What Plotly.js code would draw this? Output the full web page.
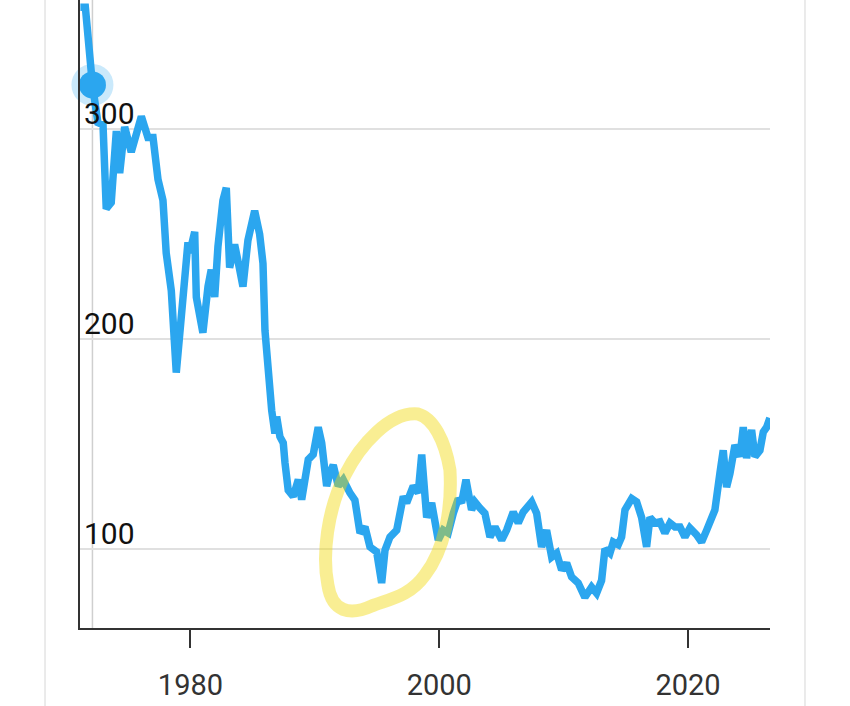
<!DOCTYPE html>
<html>
<head>
<meta charset="utf-8">
<script src="https://cdn.plot.ly/plotly-3.0.1.min.js"></script>
<style>
  html, body { margin: 0; padding: 0; background: #ffffff; }
  #chart { width: 850px; height: 706px; }
</style>
</head>
<body>
<div id="chart"></div>
<script>
// ---- data ----
const years = [
  1971.15, 1971.55, 1972.12, 1972.30, 1972.56, 1972.97, 1973.23, 1973.63, 1974.04, 1974.31,
  1974.71, 1975.24, 1976.05, 1976.58, 1976.99, 1977.39, 1977.79, 1978.05, 1978.46, 1978.86,
  1979.13, 1979.40, 1979.80, 1979.94, 1980.34, 1980.47, 1981.00, 1981.41, 1981.67, 1981.95,
  1982.21, 1982.61, 1982.88, 1983.15, 1983.55, 1983.96, 1984.22, 1984.62, 1985.16, 1985.56,
  1985.83, 1985.99, 1986.25, 1986.53, 1986.79, 1986.93, 1987.19, 1987.46, 1987.60, 1987.86,
  1988.26, 1988.67, 1988.94, 1989.47, 1989.87, 1990.27, 1990.55, 1990.95, 1991.21, 1991.48,
  1991.88, 1992.28, 1992.82, 1993.22, 1993.63, 1994.03, 1994.43, 1994.97, 1995.37, 1995.64,
  1996.04, 1996.58, 1997.11, 1997.38, 1997.91, 1998.31, 1998.59, 1998.99, 1999.39, 1999.92,
  2000.32, 2000.72, 2001.13, 2001.53, 2001.80, 2002.15, 2002.60, 2002.87, 2003.27, 2003.67,
  2004.08, 2004.48, 2005.02, 2005.42, 2005.95, 2006.35, 2006.75, 2007.15, 2007.43, 2007.83,
  2008.23, 2008.63, 2009.04, 2009.44, 2009.84, 2010.24, 2010.64, 2011.17, 2011.71, 2012.25,
  2012.65, 2013.05, 2013.32, 2013.72, 2013.99, 2014.39, 2014.66, 2014.93, 2015.47, 2015.87,
  2016.27, 2016.67, 2016.94, 2017.34, 2017.74, 2018.14, 2018.55, 2018.95, 2019.35, 2019.75,
  2020.15, 2020.69, 2021.09, 2021.50, 2021.90, 2022.16, 2022.56, 2022.83, 2023.10, 2023.37,
  2023.77, 2024.17, 2024.44, 2024.71, 2025.11, 2025.38, 2025.78, 2026.05, 2026.32, 2026.58
];
const values = [
  358, 358, 321, 312, 303, 302, 262, 265, 299, 279,
  301, 289, 306, 296, 296, 276, 266, 241, 223, 184,
  203, 219, 246, 241, 251, 220, 203, 225, 233, 220,
  244, 266, 272, 234, 245, 233, 225, 247, 261, 250,
  236, 204, 179, 166, 155, 163, 153.5, 150.5, 141, 128,
  125, 133, 123.5, 142.6, 145, 158, 150.5, 130, 136, 140,
  130, 133, 126.7, 123.3, 107.6, 110.5, 101, 98.6, 83.8, 99.5,
  105.7, 109, 125, 121.9, 130, 126.7, 145, 115, 121.9, 104.3,
  109, 107.6, 117, 124, 122, 133, 118.6, 122.4, 119.5, 117,
  105.7, 110.5, 104.3, 109, 117.6, 112.4, 117.6, 120, 122.4, 117,
  101, 109, 96.2, 98, 90, 93.3, 86.7, 83.8, 77, 81.9,
  79, 85, 100, 98, 103.3, 102, 105.7, 118.6, 124, 122.4,
  115, 101, 115, 112.4, 112.9, 107.6, 112.4, 110.5, 110.5, 105.7,
  110, 106.7, 103.3, 109, 113.8, 118.6, 136, 147, 129.5, 136,
  149.5, 144, 158, 143.3, 156.7, 144, 147, 155.7, 158, 162.4
];
const xTickVals = [1980, 2000, 2020];
const xTickText = ['1980', '2000', '2020'];
const yTickVals = [100, 200, 300];
const yTickText = ['100', '200', '300'];
const focusYear = [1972.12];
const focusValue = [321];
// hand-drawn highlight loop (year, value) : start, then bezier triples
const loopStart = [1998.29, 164.3];
const loopCurves = [
  [[1999.49, 162.4], [2000.46, 151.9], [2000.86, 137.6]],
  [[2001.05, 118.6], [2000.40, 99.5], [1998.85, 87.6]],
  [[1997.64, 77.5], [1996.04, 76.2], [1994.59, 72.9]],
  [[1992.82, 68.1], [1991.37, 70.0], [1991.05, 82.9]],
  [[1990.57, 97.1], [1991.00, 118.6], [1992.42, 135.2]],
  [[1993.63, 149.5], [1996.04, 165.6], [1998.29, 164.3]]
];

// ---- build chart ----
const blue = '#2ba6ef';
let loopPath = 'M ' + loopStart[0] + ',' + loopStart[1];
loopCurves.forEach(c => {
  loopPath += ' C ' + c.map(p => p[0] + ',' + p[1]).join(' ');
});
loopPath += ' Z';

const traces = [
  {
    x: years, y: values, type: 'scatter', mode: 'lines',
    line: { color: blue, width: 7.5 }, hoverinfo: 'skip'
  },
  {
    x: focusYear, y: focusValue, type: 'scatter', mode: 'markers',
    marker: { size: 42, color: 'rgba(43,166,239,0.25)' }, cliponaxis: false, hoverinfo: 'skip'
  },
  {
    x: focusYear, y: focusValue, type: 'scatter', mode: 'markers',
    marker: { size: 27, color: blue }, cliponaxis: false, hoverinfo: 'skip'
  }
];

const layout = {
  width: 850, height: 706,
  margin: { l: 80, r: 80, t: 0, b: 78 },
  paper_bgcolor: '#ffffff', plot_bgcolor: '#ffffff',
  showlegend: false,
  font: { family: 'Roboto, sans-serif' },
  xaxis: {
    range: [1971.12, 2026.59],
    tickvals: xTickVals, ticktext: xTickText,
    ticks: 'outside', ticklen: 18, tickwidth: 2, tickcolor: '#333333',
    showline: true, linecolor: '#333333', linewidth: 2,
    showgrid: false, zeroline: false,
    ticklabelstandoff: 12,
    tickfont: { family: 'Roboto, sans-serif', size: 29, color: '#333333' },
    fixedrange: true
  },
  yaxis: {
    range: [62.38, 361.43],
    tickvals: yTickVals, ticktext: yTickText,
    ticks: '', showline: true, linecolor: '#333333', linewidth: 2,
    showgrid: true, gridcolor: '#e0e0e0', gridwidth: 1.5, zeroline: false,
    ticklabelposition: 'inside', ticklabelshift: -16, ticklabelstandoff: 7,
    tickfont: { family: 'Roboto, sans-serif', size: 30, color: '#111111' },
    fixedrange: true
  },
  shapes: [
    { type: 'line', xref: 'x', yref: 'paper', x0: focusYear[0], x1: focusYear[0], y0: 0, y1: 1,
      line: { color: '#cfcfcf', width: 1.5 }, layer: 'below' },
    { type: 'line', xref: 'paper', yref: 'paper', x0: -0.0507, x1: -0.0507, y0: -0.13, y1: 1,
      line: { color: '#e4e4e4', width: 1.5 } },
    { type: 'line', xref: 'paper', yref: 'paper', x0: 1.0507, x1: 1.0507, y0: -0.13, y1: 1,
      line: { color: '#e4e4e4', width: 1.5 } },
    { type: 'path', xref: 'x', yref: 'y', path: loopPath,
      line: { color: '#f2d900', width: 13 }, opacity: 0.42, layer: 'above' }
  ]
};

Plotly.newPlot('chart', traces, layout, { displayModeBar: false, staticPlot: true });
</script>
</body>
</html>
